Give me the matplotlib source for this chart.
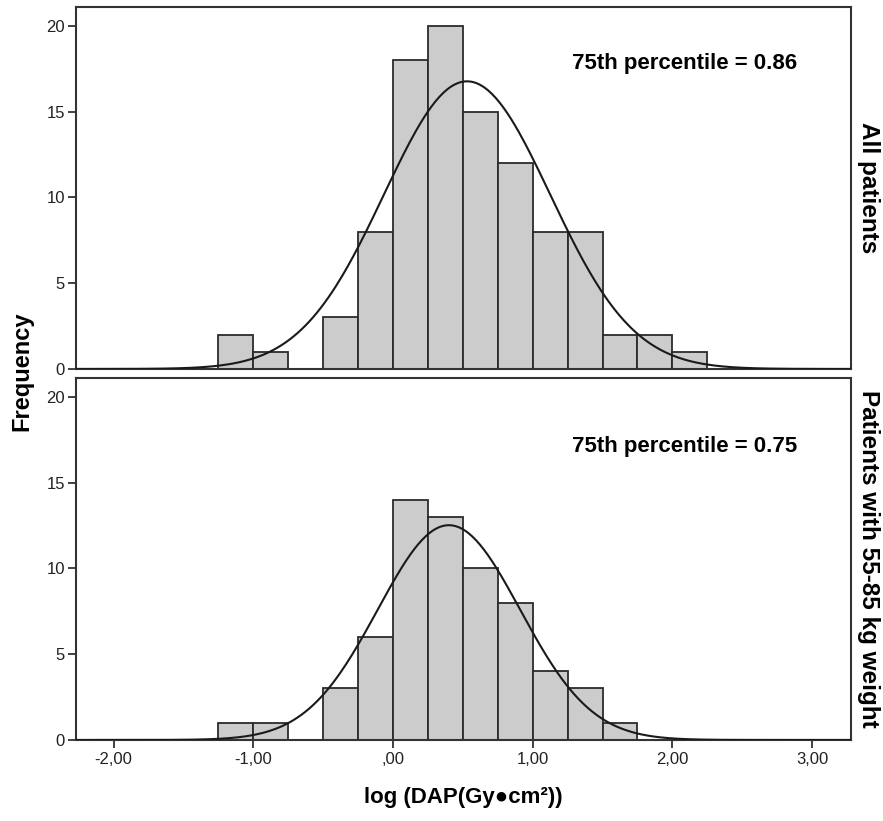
import numpy as np
import matplotlib.pyplot as plt

plt.rcParams['font.family'] = ['Liberation Sans', 'DejaVu Sans']

# histogram bins (width 0.25) and counts
bin_starts = [-1.25, -1.0, -0.75, -0.5, -0.25, 0.0, 0.25, 0.5, 0.75, 1.0, 1.25, 1.5, 1.75, 2.0]
bin_width = 0.25
all_counts = [2, 1, 0, 3, 8, 18, 20, 15, 12, 8, 8, 2, 2, 1]
weight_counts = [1, 1, 0, 3, 6, 14, 13, 10, 8, 4, 3, 1, 0, 0]

# fitted normal curves (mean, sd) as shown
all_fit = (0.53, 0.595)
weight_fit = (0.40, 0.51)

panels = [
    (all_counts, all_fit, '75th percentile = 0.86', 0.845, 'All patients'),
    (weight_counts, weight_fit, '75th percentile = 0.75', 0.81, 'Patients with 55-85 kg weight'),
]

xticks = [-2, -1, 0, 1, 2, 3]
xticklabels = ['-2,00', '-1,00', ',00', '1,00', '2,00', '3,00']
yticks = [0, 5, 10, 15, 20]

fig = plt.figure(figsize=(8.83, 8.21), dpi=100)
left, width = 0.086, 0.878
axes = [fig.add_axes([left, 0.5506, width, 0.441]),
        fig.add_axes([left, 0.0987, width, 0.441])]

xs = np.linspace(-2.27, 3.28, 400)
for ax, (counts, (mu, sd), note, note_y, side) in zip(axes, panels):
    ax.bar(bin_starts, counts, width=bin_width, align='edge',
           color='#cccccc', edgecolor='#2b2b2b', linewidth=1.3, zorder=2)
    n = sum(counts)
    ys = n * bin_width / (sd * np.sqrt(2 * np.pi)) * np.exp(-0.5 * ((xs - mu) / sd) ** 2)
    ax.plot(xs, ys, color='#1a1a1a', lw=1.5, zorder=3)

    ax.set_xlim(-2.27, 3.28)
    ax.set_ylim(0, 21.1)
    ax.set_yticks(yticks)
    ax.tick_params(axis='y', direction='out', length=6, width=1.3, color='#333333',
                   labelsize=12, pad=2, labelcolor='#222222')
    for s in ax.spines.values():
        s.set_color('#333333')
        s.set_linewidth(1.5)
    ax.text(0.64, note_y, note, transform=ax.transAxes, ha='left', va='center',
            fontsize=16, fontweight='bold')
    ax.text(1.022, 0.5, side, transform=ax.transAxes, ha='center', va='center',
            rotation=-90, fontsize=17.5, fontweight='bold')

axes[0].set_xticks([])
axes[1].set_xticks(xticks)
axes[1].set_xticklabels(xticklabels)
axes[1].tick_params(axis='x', direction='out', length=6, width=1.3, color='#333333',
                    labelsize=12, pad=3, labelcolor='#222222')
axes[1].set_xlabel('log (DAP(Gy\u25cfcm\u00b2))', fontsize=16, fontweight='bold', labelpad=14)

fig.text(0.025, 0.548, 'Frequency', rotation=90, ha='center', va='center',
         fontsize=17, fontweight='bold')

fig.savefig('out.png', dpi=100)
